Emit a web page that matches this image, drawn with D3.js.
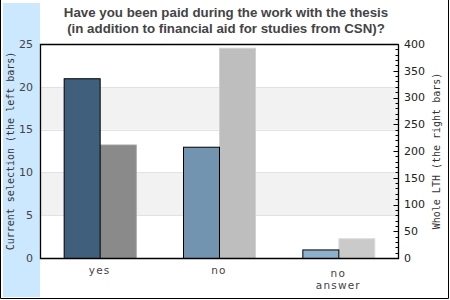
<!DOCTYPE html>
<meta charset="utf-8">
<script src="https://d3js.org/d3.v7.min.js"></script>
<style>
  body { margin: 0; background: #fff; }
</style>
<div id="chart"></div>
<script>
  // data
  var categories = ["yes", "no", "no answer"];
  var leftValues = [21, 13, 1];        // current selection
  var rightValues = [212, 393, 37];    // whole LTH
  var leftColors = ["#3f5f7c", "#7294b0", "#8eb0cc"];
  var rightColors = ["#8a8a8a", "#bebebe", "#cacaca"];
  var leftTicks = [0, 5, 10, 15, 20, 25];
  var rightTicks = [0, 50, 100, 150, 200, 250, 300, 350, 400];

  var W = 450, H = 300;
  var margin = { top: 44, right: 52, bottom: 42, left: 40 },
    width = W - margin.left - margin.right,
    height = H - margin.top - margin.bottom;

  var svg = d3.select("#chart").append("svg")
    .attr("width", W).attr("height", H)
    .style("display", "block");

  // left blue panel
  svg.append("rect").attr("x", 3).attr("y", 3).attr("width", 37).attr("height", 294)
    .attr("fill", "#cce8ff");

  // outer frame (left, right, bottom)
  svg.append("path").attr("d", "M0.5,0V298.5H448.5V0")
    .attr("fill", "none").attr("stroke", "#000");

  // title
  var title = svg.append("text")
    .attr("text-anchor", "middle")
    .style("font-family", "'Liberation Sans', Arial, sans-serif")
    .style("font-weight", "bold").style("font-size", "13.3px")
    .attr("fill", "#444");
  title.append("tspan").attr("x", 226).attr("y", 17).text("Have you been paid during the work with the thesis");
  title.append("tspan").attr("x", 226).attr("y", 33).text("(in addition to financial aid for studies from CSN)?");

  var g = svg.append("g").attr("transform", "translate(" + margin.left + "," + margin.top + ")");

  var yL = d3.scaleLinear().domain([0, 25]).range([height, 0]);
  var yR = d3.scaleLinear().domain([0, 400]).range([height, 0]);
  var x = d3.scaleBand().domain(categories).range([0, width]);
  var bw = 36;

  // alternating bands
  g.selectAll("rect.band").data([5, 15]).enter().append("rect")
    .attr("class", "band")
    .attr("x", 0).attr("width", width)
    .attr("y", function (d) { return yL(d + 5); })
    .attr("height", function (d) { return yL(d) - yL(d + 5); })
    .attr("fill", "#f2f2f2");
  g.selectAll("line.grid").data([5, 10, 15, 20]).enter().append("line")
    .attr("class", "grid")
    .attr("x1", 0).attr("x2", width)
    .attr("y1", function (d) { return Math.round(yL(d)) + 0.5; })
    .attr("y2", function (d) { return Math.round(yL(d)) + 0.5; })
    .attr("stroke", "#e2e2e2");

  // right bars
  g.selectAll("rect.rbar").data(rightValues).enter().append("rect")
    .attr("class", "rbar")
    .attr("x", function (d, i) { return x(categories[i]) + x.bandwidth() / 2 + 0.5; })
    .attr("y", function (d) { return yR(d) + 0.5; })
    .attr("width", bw)
    .attr("height", function (d) { return height - yR(d); })
    .attr("fill", function (d, i) { return rightColors[i]; })
    .attr("stroke", function (d, i) { return d3.color(rightColors[i]).brighter(0.25); });

  // left bars
  g.selectAll("rect.lbar").data(leftValues).enter().append("rect")
    .attr("class", "lbar")
    .attr("x", function (d, i) { return x(categories[i]) + x.bandwidth() / 2 - bw + 0.5; })
    .attr("y", function (d) { return yL(d) + 0.5; })
    .attr("width", bw)
    .attr("height", function (d) { return height - yL(d); })
    .attr("fill", function (d, i) { return leftColors[i]; })
    .attr("stroke", "#000");

  // frame: top, left, bottom, right
  g.append("path").attr("d", "M" + (width + 0.5) + ",0.5H0.5V" + (height + 0.5) + "H" + (width + 0.5) + "V0.5")
    .attr("fill", "none").attr("stroke", "#000").attr("stroke-width", 1.3);

  // right axis minor / major ticks (inward)
  var minor = d3.range(0, 401, 10);
  g.selectAll("line.rt").data(minor).enter().append("line")
    .attr("x1", width + 0.5)
    .attr("x2", function (d) { return width + 0.5 - (d % 50 === 0 ? 5 : 3); })
    .attr("y1", function (d) { return Math.round(yR(d)) + 0.5; })
    .attr("y2", function (d) { return Math.round(yR(d)) + 0.5; })
    .attr("stroke", "#000");

  var tickFont = "'DejaVu Sans', Verdana, sans-serif";
  // left tick labels
  g.selectAll("text.lt").data(leftTicks).enter().append("text")
    .attr("x", -7).attr("y", function (d) { return yL(d); })
    .attr("dy", "0.35em").attr("text-anchor", "end")
    .style("font-family", tickFont).style("font-size", "11px").attr("fill", "#444")
    .text(function (d) { return d; });
  // right tick labels
  g.selectAll("text.rtl").data(rightTicks).enter().append("text")
    .attr("x", width + 6).attr("y", function (d) { return yR(d); })
    .attr("dy", "0.35em").attr("text-anchor", "start")
    .style("font-family", tickFont).style("font-size", "11px").attr("fill", "#222")
    .text(function (d) { return d; });

  // category labels
  var cl = g.selectAll("text.cat").data(categories).enter().append("text")
    .attr("text-anchor", "middle")
    .style("font-family", tickFont).style("font-size", "10.5px")
    .style("letter-spacing", "1.2px").attr("fill", "#444");
  cl.each(function (d) {
    var words = d.split(" ");
    var t = d3.select(this);
    var y0 = words.length > 1 ? 19 : 16;
    words.forEach(function (w, j) {
      t.append("tspan").attr("x", x(d) + x.bandwidth() / 2)
        .attr("y", height + y0 + j * 12).text(w);
    });
  });

  // axis titles
  var monoFont = "'DejaVu Sans Mono', monospace";
  svg.append("text")
    .attr("transform", "translate(14," + (margin.top + height / 2) + ") rotate(-90)")
    .attr("text-anchor", "middle")
    .style("font-family", monoFont).style("font-size", "10px").attr("fill", "#333")
    .text("Current selection (the left bars)");
  svg.append("text")
    .attr("transform", "translate(440," + (margin.top + height / 2) + ") rotate(-90)")
    .attr("text-anchor", "middle")
    .style("font-family", monoFont).style("font-size", "10px").attr("fill", "#333")
    .text("Whole LTH (the right bars)");
</script>
